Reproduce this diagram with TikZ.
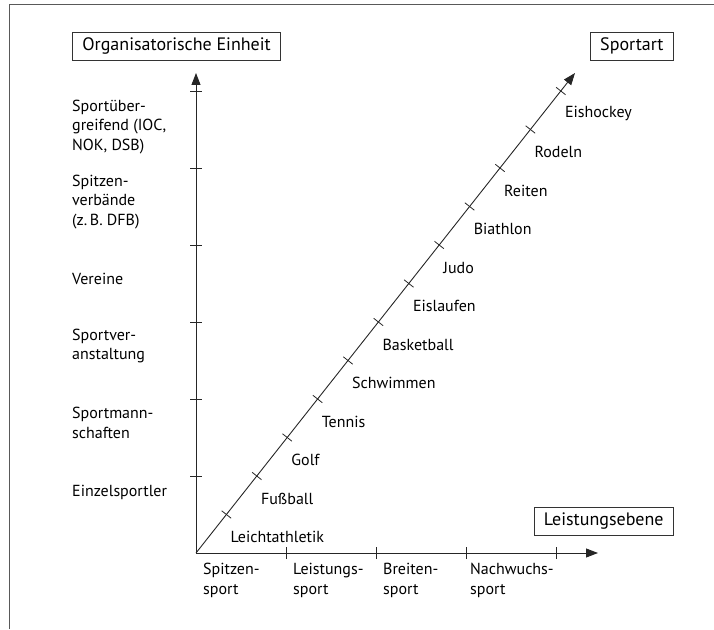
\documentclass[tikz,border=0pt]{standalone}
\usepackage{fontspec}
\setmainfont{PT Sans}
\usetikzlibrary{arrows.meta,positioning}

\begin{document}
\begin{tikzpicture}[x=1pt,y=1pt,font=\fontsize{16}{19.5}\selectfont,
  axis/.style={draw=black!85,line width=0.9pt,-{Triangle[length=12pt,width=9pt]}},
  tick/.style={draw=black!85,line width=0.8pt},
  title box/.style={draw=black!80,line width=0.8pt,font=\fontsize{18}{21}\selectfont,
    minimum height=28pt,inner xsep=10pt,inner ysep=0pt},
  unit label/.style={align=left,anchor=west,inner sep=0pt},
  sport label/.style={anchor=west,inner sep=0pt}]
  \useasboundingbox (-196,-76) rectangle (518,553);
  % frame
  \draw[black!65,line width=1pt] (-186,-76) -- (-186,548) -- (518,548);

  \coordinate (o) at (0,0);
  \coordinate (ytip) at (0,480);
  \coordinate (xtip) at (402,0);
  \coordinate (dtip) at (379,480);

  \node[title box,anchor=west] (orga) at (-124,507) {Organisatorische Einheit};
  \node[title box,anchor=east] (sportart) at (478,507) {Sportart};
  \node[title box,anchor=east] (ebene) at (478,32) {Leistungsebene};

  \draw[axis] (o) -- (ytip);
  \draw[axis] (o) -- (xtip);
  \draw[axis] (o) -- (dtip);

  % ticks
  \foreach \k in {1,...,6}
    \draw[tick] (-6,{77*\k}) -- (6,{77*\k});
  \foreach \k in {1,...,4}
    \draw[tick] ({90*\k},-6) -- ({90*\k},6);
  \foreach \k in {1,...,12}
    \draw[tick] ({30.4*\k-4.7},{38.5*\k+3.7}) -- ({30.4*\k+4.7},{38.5*\k-3.7});

  % organisatorische Einheit
  \node[unit label] (u1) at (-124,61) {Einzelsportler};
  \node[unit label] (u2) at (-124,130) {Sportmann-\\schaften};
  \node[unit label] (u3) at (-124,207) {Sportver-\\anstaltung};
  \node[unit label] (u4) at (-124,274) {Vereine};
  \node[unit label] (u5) at (-124,351) {Spitzen-\\verbände\\(z.\,B. DFB)};
  \node[unit label] (u6) at (-124,426) {Sportüber-\\greifend (IOC,\\NOK, DSB)};

  % Leistungsebene
  \node[unit label] (l1) at (7,-27.5) {Spitzen-\\sport};
  \node[unit label] (l2) at (97,-27.5) {Leistungs-\\sport};
  \node[unit label] (l3) at (187,-27.5) {Breiten-\\sport};
  \node[unit label] (l4) at (274,-27.5) {Nachwuchs-\\sport};

  % Sportart
  \node[sport label] (s1) at (34.4,16) {Leichtathletik};
  \node[sport label] (s2) at (64.8,54.5) {Fußball};
  \node[sport label] (s3) at (95.2,93) {Golf};
  \node[sport label] (s4) at (125.6,131.5) {Tennis};
  \node[sport label] (s5) at (156,170) {Schwimmen};
  \node[sport label] (s6) at (186.4,208.5) {Basketball};
  \node[sport label] (s7) at (216.8,247) {Eislaufen};
  \node[sport label] (s8) at (247.2,285.5) {Judo};
  \node[sport label] (s9) at (277.6,324) {Biathlon};
  \node[sport label] (s10) at (308,362.5) {Reiten};
  \node[sport label] (s11) at (338.4,401) {Rodeln};
  \node[sport label] (s12) at (368.8,439.5) {Eishockey};
\end{tikzpicture}
\end{document}
